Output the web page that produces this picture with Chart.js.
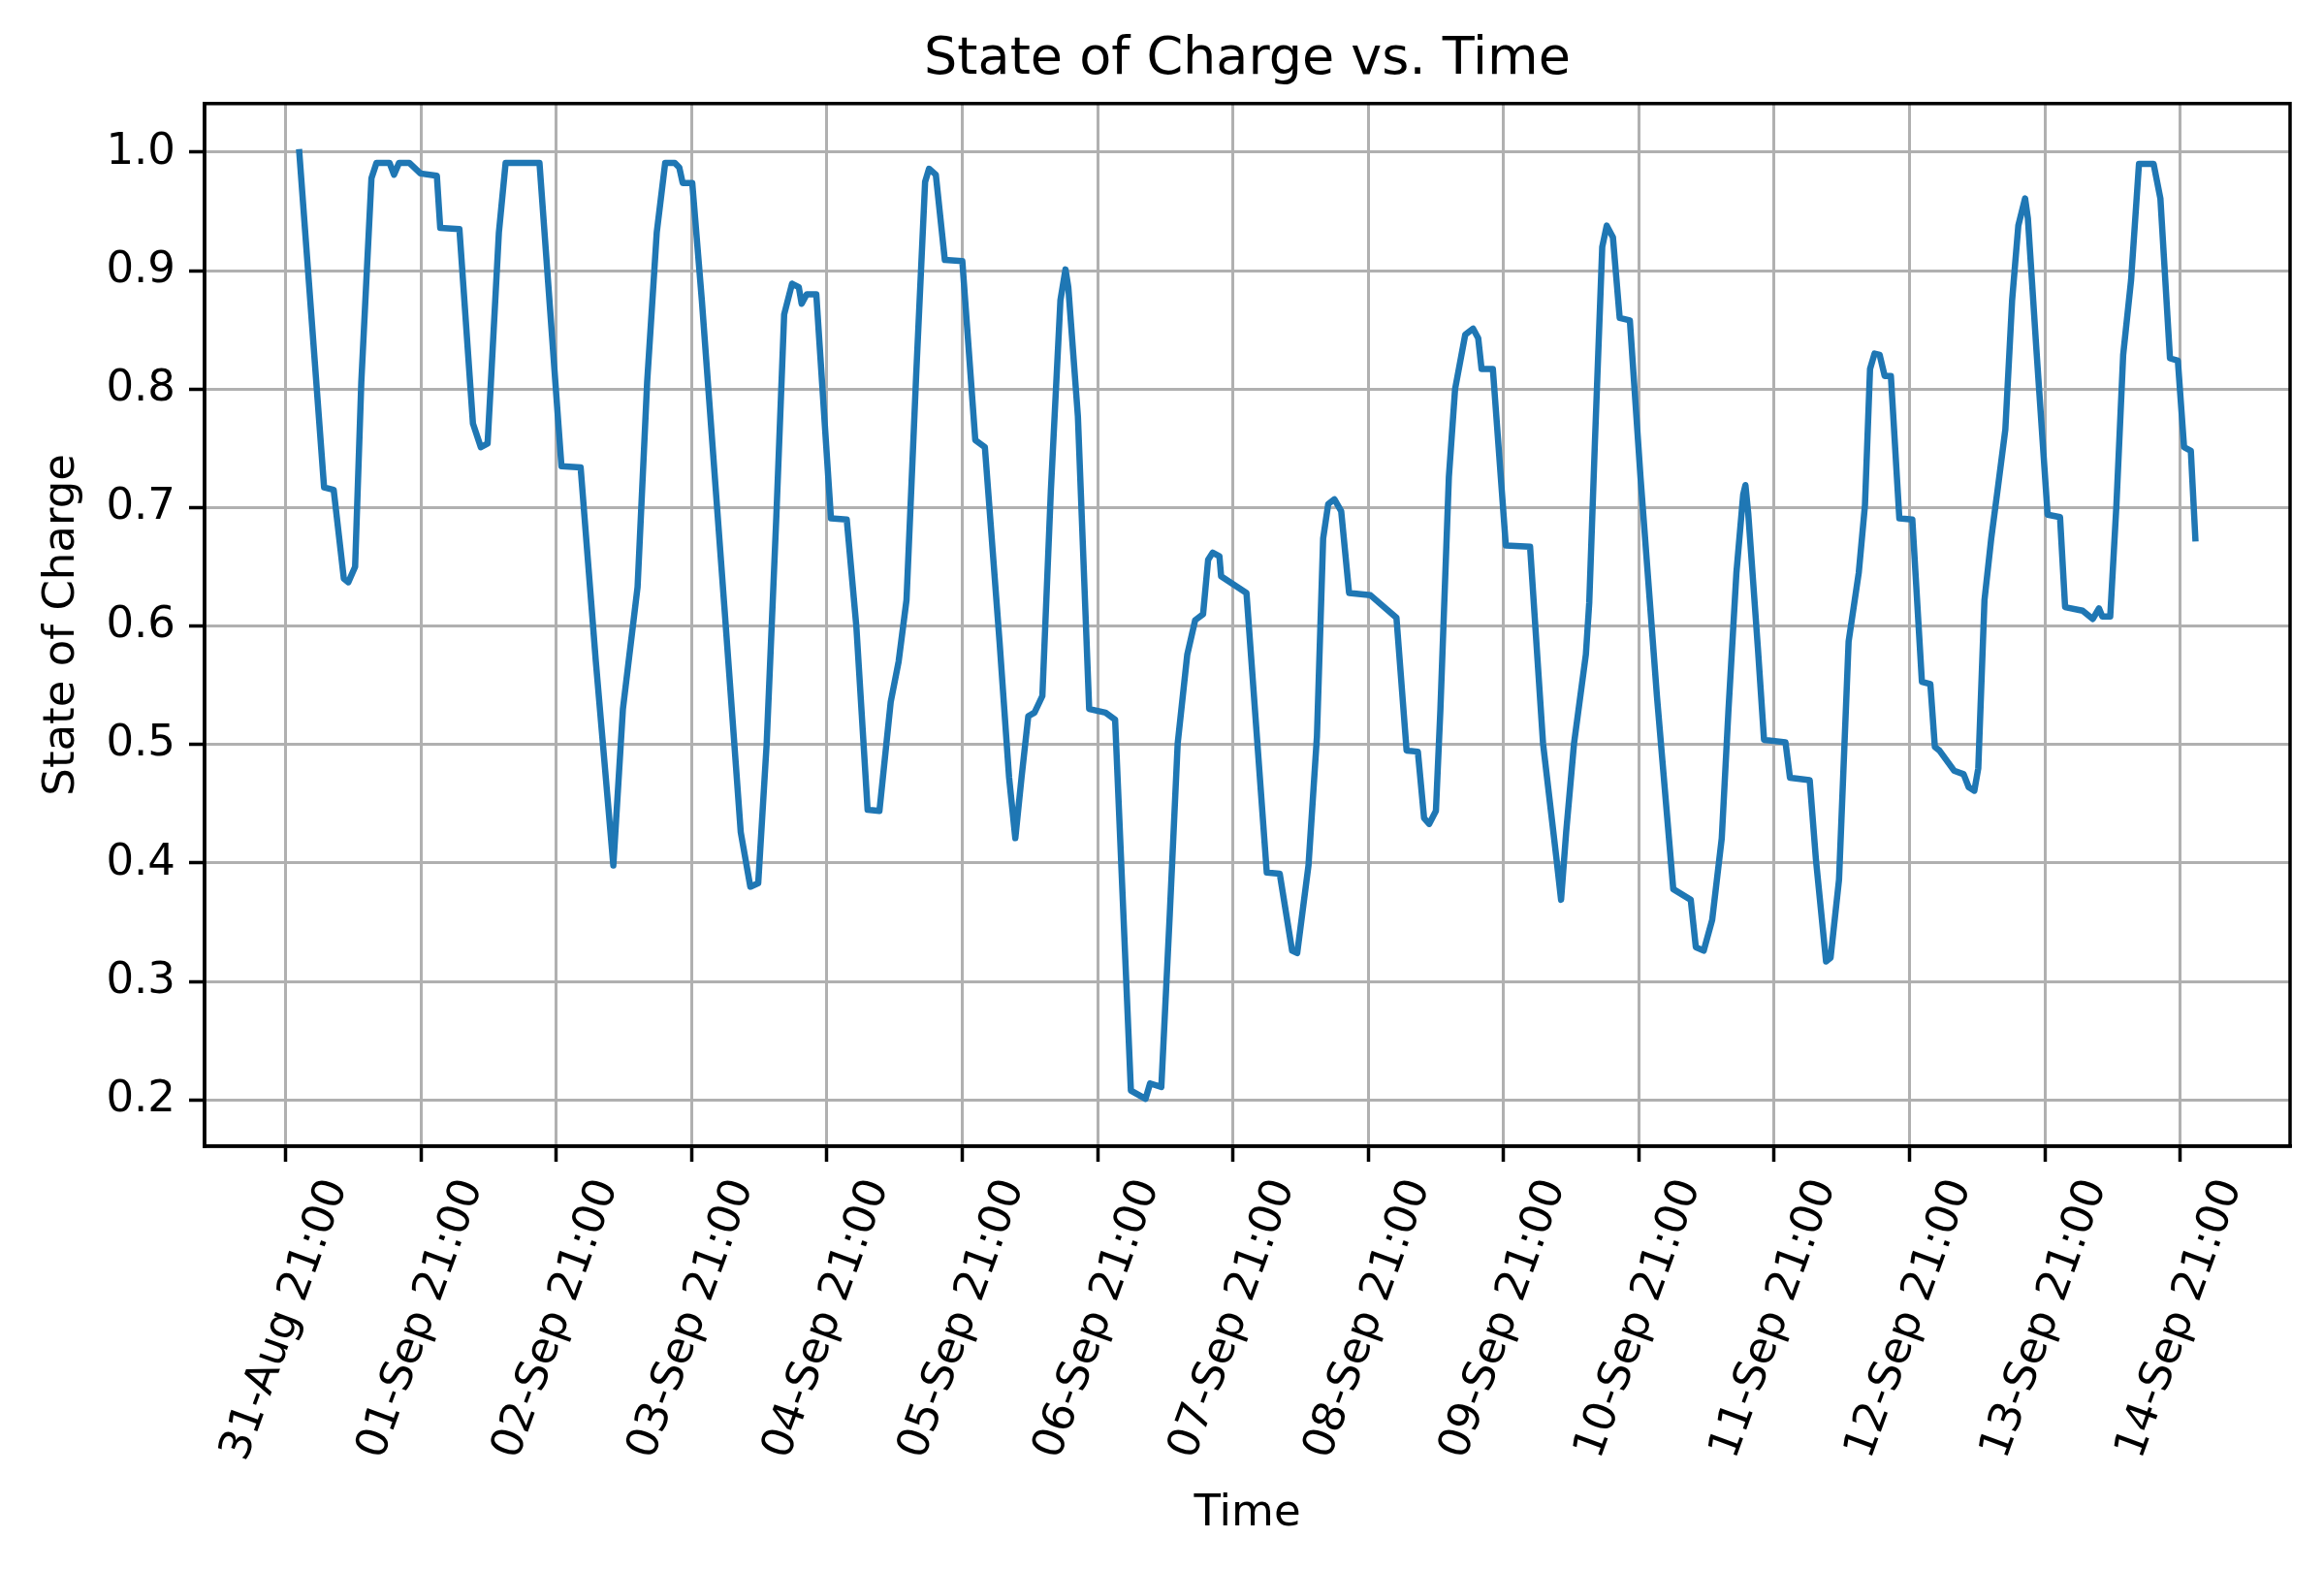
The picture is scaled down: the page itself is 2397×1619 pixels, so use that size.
<!DOCTYPE html>
<html>
<head>
<meta charset="utf-8">
<title>State of Charge vs. Time</title>
<script src="https://cdn.jsdelivr.net/npm/chart.js@4.4.1/dist/chart.umd.min.js"></script>
<style>
  html, body { margin: 0; padding: 0; background: #fff; }
  canvas { display: block; }
</style>
</head>
<body>
<canvas id="socChart" width="2397" height="1619"></canvas>
<script>
// time in hours, counted from 31-Aug 21:00
const hours = [
  2.4, 6.8, 8.5, 10.3, 11.1, 12.3, 13.4, 15.2, 16.1, 18.4, 19.2, 20.1, 21.9, 23.9,
  26.8, 27.4, 30.8, 33.2, 34.6, 35.8, 37.8, 39.0, 45.0, 48.9, 52.3, 55.0, 58.1, 59.8,
  62.4, 64.1, 65.8, 67.3, 69.0, 69.8, 70.4, 72.1, 73.8, 77.8, 80.7, 82.4, 83.8, 85.3,
  87.0, 88.4, 89.8, 91.0, 91.5, 92.4, 94.1, 96.7, 99.5, 101.2, 103.2, 105.3, 107.3, 108.7,
  110.1, 111.8, 113.4, 114.1, 115.3, 116.9, 120.0, 122.3, 124.0, 126.6, 128.3, 129.4, 130.5, 131.7,
  132.8, 134.2, 135.7, 137.4, 138.3, 138.8, 140.5, 142.5, 145.4, 147.1, 149.9, 152.5, 153.3, 155.3,
  156.8, 158.2, 159.9, 161.3, 162.7, 163.6, 164.4, 165.6, 165.9, 170.4, 174.0, 176.3, 178.5, 179.4,
  181.4, 182.9, 184.0, 184.9, 186.0, 187.2, 188.6, 192.4, 197.0, 198.8, 200.8, 201.9, 202.8, 204.0,
  204.8, 206.3, 207.4, 209.2, 210.6, 211.5, 212.1, 214.1, 216.4, 220.7, 223.0, 225.4, 226.2, 227.1,
  228.5, 230.6, 231.2, 232.2, 233.5, 234.3, 235.4, 236.6, 238.4, 240.3, 243.2, 246.1, 249.2, 250.1,
  251.5, 253.0, 254.7, 255.9, 257.3, 258.5, 258.9, 259.4, 261.1, 262.2, 266.0, 266.8, 270.3, 271.4,
  273.2, 274.0, 275.5, 277.2, 279.0, 280.1, 281.0, 281.8, 282.7, 283.6, 284.7, 286.2, 288.5, 290.2,
  291.7, 292.5, 293.3, 295.9, 297.6, 298.5, 299.5, 300.2, 301.3, 302.5, 303.6, 305.0, 306.2, 307.3,
  308.5, 309.0, 310.5, 312.5, 314.7, 315.6, 318.7, 320.5, 321.6, 322.2, 323.6, 324.7, 325.9, 327.3,
  328.7, 331.3, 332.5, 334.2, 335.6, 336.7, 337.9, 338.7
];
const soc = [
  1.000, 0.717, 0.715, 0.640, 0.637, 0.650, 0.806, 0.978, 0.991, 0.991, 0.981, 0.991, 0.991, 0.982,
  0.980, 0.936, 0.935, 0.771, 0.751, 0.754, 0.932, 0.991, 0.991, 0.735, 0.734, 0.570, 0.398, 0.530,
  0.633, 0.806, 0.932, 0.991, 0.991, 0.987, 0.974, 0.974, 0.875, 0.616, 0.426, 0.380, 0.383, 0.501,
  0.691, 0.863, 0.889, 0.886, 0.872, 0.880, 0.880, 0.691, 0.690, 0.600, 0.445, 0.444, 0.536, 0.570,
  0.622, 0.810, 0.975, 0.986, 0.981, 0.909, 0.908, 0.757, 0.751, 0.587, 0.472, 0.421, 0.472, 0.524,
  0.527, 0.541, 0.714, 0.875, 0.901, 0.886, 0.777, 0.530, 0.527, 0.521, 0.208, 0.201, 0.214, 0.211,
  0.357, 0.501, 0.576, 0.605, 0.610, 0.656, 0.662, 0.659, 0.642, 0.628, 0.392, 0.391, 0.326, 0.324,
  0.398, 0.507, 0.674, 0.703, 0.707, 0.697, 0.628, 0.626, 0.607, 0.495, 0.494, 0.438, 0.433, 0.444,
  0.530, 0.726, 0.800, 0.846, 0.851, 0.843, 0.817, 0.817, 0.668, 0.667, 0.501, 0.403, 0.369, 0.426,
  0.501, 0.576, 0.620, 0.755, 0.920, 0.938, 0.928, 0.860, 0.858, 0.725, 0.541, 0.378, 0.369, 0.329,
  0.326, 0.352, 0.421, 0.530, 0.645, 0.711, 0.719, 0.695, 0.582, 0.504, 0.502, 0.472, 0.470, 0.403,
  0.317, 0.320, 0.386, 0.587, 0.645, 0.702, 0.817, 0.830, 0.829, 0.811, 0.811, 0.691, 0.690, 0.553,
  0.551, 0.498, 0.495, 0.478, 0.475, 0.464, 0.461, 0.480, 0.622, 0.674, 0.714, 0.766, 0.875, 0.938,
  0.961, 0.944, 0.834, 0.694, 0.692, 0.616, 0.613, 0.606, 0.615, 0.608, 0.608, 0.702, 0.829, 0.892,
  0.990, 0.990, 0.961, 0.826, 0.824, 0.751, 0.748, 0.674
];

const tickHours = [0, 24, 48, 72, 96, 120, 144, 168, 192, 216, 240, 264, 288, 312, 336];
const tickLabels = [
  '31-Aug 21:00', '01-Sep 21:00', '02-Sep 21:00', '03-Sep 21:00', '04-Sep 21:00',
  '05-Sep 21:00', '06-Sep 21:00', '07-Sep 21:00', '08-Sep 21:00', '09-Sep 21:00',
  '10-Sep 21:00', '11-Sep 21:00', '12-Sep 21:00', '13-Sep 21:00', '14-Sep 21:00'
];
const yTicks = [0.2, 0.3, 0.4, 0.5, 0.6, 0.7, 0.8, 0.9, 1.0];

const FONT = 'DejaVu Sans';
Chart.defaults.color = '#000';
Chart.defaults.font.family = FONT;

// matplotlib-like frame: full box round the plot, title centred over the axes
const framePlugin = {
  id: 'frame',
  afterLayout(chart) {
    const t = chart.titleBlock;
    if (t) {
      t.left = chart.chartArea.left;
      t.right = chart.chartArea.right;
      t.width = t.right - t.left;
    }
  },
  afterDatasetsDraw(chart) {
    const { ctx, chartArea: a } = chart;
    ctx.save();
    ctx.strokeStyle = '#000';
    ctx.lineWidth = 3.5;
    ctx.strokeRect(a.left, a.top, a.right - a.left, a.bottom - a.top);
    ctx.restore();
  }
};

const points = hours.map((h, i) => ({ x: h, y: soc[i] }));

new Chart(document.getElementById('socChart'), {
  type: 'line',
  data: {
    datasets: [{
      label: 'State of Charge',
      data: points,
      borderColor: '#1f77b4',
      borderWidth: 6.5,
      borderJoinStyle: 'round',
      borderCapStyle: 'square',
      pointRadius: 0,
      tension: 0,
      fill: false
    }]
  },
  options: {
    responsive: false,
    animation: false,
    devicePixelRatio: 1,
    layout: { padding: { left: 0, right: 35, top: 0, bottom: 0 } },
    plugins: {
      legend: { display: false },
      tooltip: { enabled: false },
      title: {
        display: true,
        text: 'State of Charge vs. Time',
        font: { family: FONT, size: 54, weight: 'normal' },
        padding: { top: 30, bottom: 12 }
      }
    },
    scales: {
      x: {
        type: 'linear',
        min: -14.4,
        max: 355.5,
        afterBuildTicks: (scale) => { scale.ticks = tickHours.map(v => ({ value: v })); },
        afterFit: (scale) => { scale.height = 437; },
        ticks: {
          autoSkip: false,
          minRotation: 70,
          maxRotation: 70,
          padding: 11,
          labelOffset: 52,
          font: { family: FONT, size: 45 },
          callback: (value, index) => tickLabels[index]
        },
        grid: {
          color: '#b0b0b0',
          lineWidth: 3,
          tickColor: '#000',
          tickLength: 16,
          tickWidth: 3.5
        },
        border: { display: true, color: '#000', width: 3.5 },
        title: {
          display: true,
          text: 'Time',
          font: { family: FONT, size: 45 },
          padding: { top: 0, bottom: 31 }
        }
      },
      y: {
        type: 'linear',
        min: 0.161,
        max: 1.041,
        afterBuildTicks: (scale) => { scale.ticks = yTicks.map(v => ({ value: v })); },
        afterFit: (scale) => { scale.width = 211; },
        ticks: {
          padding: 14,
          font: { family: FONT, size: 45 },
          callback: (value) => value.toFixed(1)
        },
        grid: {
          color: '#b0b0b0',
          lineWidth: 3,
          tickColor: '#000',
          tickLength: 16,
          tickWidth: 3.5
        },
        border: { display: true, color: '#000', width: 3.5 },
        title: {
          display: true,
          text: 'State of Charge',
          font: { family: FONT, size: 45 },
          padding: { top: 37, bottom: 0 }
        }
      }
    }
  },
  plugins: [framePlugin]
});
</script>
</body>
</html>
